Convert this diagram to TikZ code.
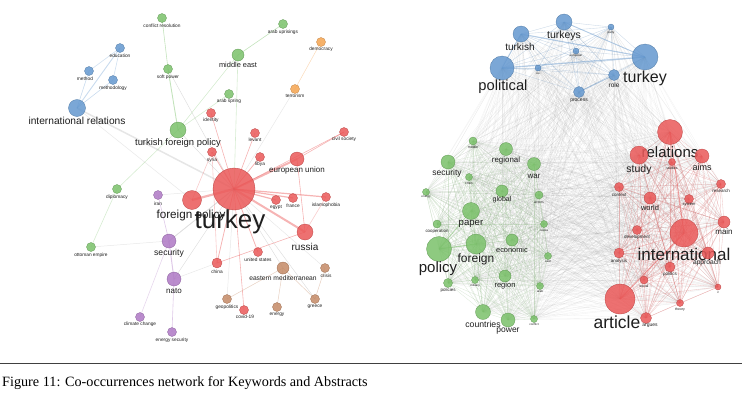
\documentclass[tikz,border=0pt]{standalone}
\usepackage{fontspec}
\setmainfont{Liberation Sans}
\newfontfamily\capfont{Liberation Serif}
\usepackage{xcolor}
\usepackage{tikz}
\usetikzlibrary{positioning,calc}

\definecolor{kwred}{RGB}{234,88,88}
\definecolor{kwgreen}{RGB}{122,193,106}
\definecolor{kwblue}{RGB}{100,152,207}
\definecolor{kwpurple}{RGB}{174,120,196}
\definecolor{kworange}{RGB}{245,164,80}
\definecolor{kwbrown}{RGB}{196,138,102}
\definecolor{kwtext}{RGB}{30,30,30}

\pgfdeclarelayer{edges}
\pgfsetlayers{edges,main}

\begin{document}
\begin{tikzpicture}[x=1pt,y=-1pt,
    kwdot/.style={circle, inner sep=0pt, line width=0.3pt, fill opacity=0.85},
    kwlabel/.style={inner sep=0pt, text=kwtext},
    redge/.style={draw=kwred, opacity=0.45, line width=0.6pt},
    gedge/.style={draw=kwgreen, opacity=0.45, line width=0.6pt},
    bedge/.style={draw=kwblue, opacity=0.35, line width=0.6pt},
    pedge/.style={draw=kwpurple, opacity=0.4, line width=0.6pt},
    oedge/.style={draw=kworange, opacity=0.4, line width=0.5pt},
    nedge/.style={draw=kwbrown, opacity=0.4, line width=0.5pt},
    xedge/.style={draw=gray, opacity=0.25, line width=0.5pt},
    meshedge/.style={draw=gray, opacity=0.11, line width=0.3pt}]

  \useasboundingbox (0,0) rectangle (742,394);

  % #1 is name, #2 #3 is centre, #4 is radius, #5 is colour
  % #6 #7 is label centre, #8 is font size, #9 is text
  \newcommand{\kw}[9]{
    \node[kwdot, fill=#5, draw=#5!80!black, minimum size=2*#4] (#1) at (#2,#3) {};
    \node[kwlabel, font=\fontsize{#8}{#8}\selectfont] (#1-lbl) at (#6,#7) {#9};
  }

  % keywords network
  \kw{l-confres}{162}{18}{4.5}{kwgreen}{162}{26}{4.8}{conflict resolution}
  \kw{l-arabup}{283}{24}{4.5}{kwgreen}{283}{32}{4.8}{arab uprisings}
  \kw{l-democ}{321}{42}{4.5}{kworange}{321}{49.5}{4.8}{democracy}
  \kw{l-educ}{120}{48}{4.5}{kwblue}{120}{56}{4.8}{education}
  \kw{l-method}{89}{71}{4.5}{kwblue}{85}{79}{4.8}{method}
  \kw{l-methodol}{113}{80}{4.5}{kwblue}{113}{88.5}{4.8}{methodology}
  \kw{l-mideast}{238}{55}{6}{kwgreen}{238}{65}{7.4}{middle east}
  \kw{l-softpow}{168}{69}{4.5}{kwgreen}{168}{77}{4.8}{soft power}
  \kw{l-terror}{295}{89}{4.5}{kworange}{295}{96}{4.8}{terrorism}
  \kw{l-arabspr}{229}{94}{4.5}{kwgreen}{229}{101.5}{4.8}{arab spring}
  \kw{l-intrel}{77}{108}{8.5}{kwblue}{77}{121}{10.2}{international relations}
  \kw{l-identity}{211}{113}{4.5}{kwred}{211}{120.5}{4.8}{identity}
  \kw{l-tfp}{178}{130}{8}{kwgreen}{178}{143.5}{9.4}{turkish foreign policy}
  \kw{l-levant}{255}{133}{4.5}{kwred}{255}{140}{4.8}{levant}
  \kw{l-civsoc}{344}{132}{4.5}{kwred}{344}{139}{4.8}{civil society}
  \kw{l-syria}{212}{152}{4.5}{kwred}{212}{160}{4.8}{syria}
  \kw{l-libya}{260}{157}{4.5}{kwred}{260}{164}{4.8}{libya}
  \kw{l-eu}{297}{159}{7}{kwred}{297}{170}{8}{european union}
  \kw{l-turkey}{234}{189}{21}{kwred}{230}{222}{26}{turkey}
  \kw{l-fpolicy}{192}{200}{9.5}{kwred}{191}{215}{11.7}{foreign policy}
  \kw{l-iran}{158}{195}{4.5}{kwpurple}{158}{204}{4.8}{iran}
  \kw{l-diplo}{117}{189}{4.5}{kwgreen}{117}{197}{4.8}{diplomacy}
  \kw{l-egypt}{276}{200}{4.5}{kwred}{276}{207.5}{4.8}{egypt}
  \kw{l-france}{293}{198}{4.5}{kwred}{293}{205.5}{4.8}{france}
  \kw{l-islam}{326}{197}{4.5}{kwred}{326}{205}{4.8}{islamophobia}
  \kw{l-russia}{305}{232}{8}{kwred}{305}{246.5}{10}{russia}
  \kw{l-ottoman}{91}{247}{4.5}{kwgreen}{91}{255}{4.8}{ottoman empire}
  \kw{l-security}{169}{241}{7}{kwpurple}{169}{253}{8.6}{security}
  \kw{l-usa}{258}{252}{4.5}{kwred}{258}{259.5}{4.8}{united states}
  \kw{l-china}{217}{263}{5}{kwred}{217}{272}{4.8}{china}
  \kw{l-eastmed}{283}{268}{6}{kwbrown}{283}{278.5}{6.7}{eastern mediterranean}
  \kw{l-crisis}{325}{268}{4.5}{kwbrown}{326}{276}{4.8}{crisis}
  \kw{l-nato}{174}{279}{7}{kwpurple}{174}{290.5}{8}{nato}
  \kw{l-geopol}{227}{299}{4.5}{kwbrown}{227}{307}{4.8}{geopolitics}
  \kw{l-covid}{244}{310}{4.5}{kwred}{245}{317}{4.8}{covid-19}
  \kw{l-energy}{277}{307}{4.5}{kwbrown}{277}{315}{4.8}{energy}
  \kw{l-greece}{315}{299}{4.5}{kwbrown}{315}{307}{4.8}{greece}
  \kw{l-climate}{140}{317}{4.5}{kwpurple}{140}{324.5}{4.8}{climate change}
  \kw{l-ensec}{172}{332}{4.5}{kwpurple}{172}{340}{4.8}{energy security}

  % abstracts network
  \kw{r-turkeys}{564}{22}{8}{kwblue}{564}{35.5}{10.5}{turkeys}
  \kw{r-turkish}{521}{34}{8}{kwblue}{520}{47}{10}{turkish}
  \kw{r-party}{611}{27}{3}{kwblue}{611}{32.5}{3}{party}
  \kw{r-european}{576}{51}{3}{kwblue}{576}{56}{3}{european}
  \kw{r-turkey}{645}{57}{13}{kwblue}{645}{78}{16}{turkey}
  \kw{r-political}{502}{68}{12}{kwblue}{503}{87}{14.7}{political}
  \kw{r-eu}{538}{68}{3}{kwblue}{538}{74}{3}{eu}
  \kw{r-role}{614}{75}{5.5}{kwblue}{614}{85}{6.5}{role}
  \kw{r-process}{579}{92}{5.5}{kwblue}{579}{101}{5}{process}

  \kw{r-middle}{473}{141}{4}{kwgreen}{473}{147}{3.5}{middle}
  \kw{r-regional}{506}{149}{6.5}{kwgreen}{506}{160}{7.9}{regional}
  \kw{r-security}{448}{162}{7}{kwgreen}{447}{173}{8.5}{security}
  \kw{r-war}{534}{164}{6.5}{kwgreen}{534}{176}{8}{war}
  \kw{r-crisis}{469}{177}{3.5}{kwgreen}{469}{183}{3.5}{crisis}
  \kw{r-energy}{426}{192}{3.5}{kwgreen}{426}{197}{3}{energy}
  \kw{r-global}{502}{191}{6}{kwgreen}{502}{200}{7}{global}
  \kw{r-actors}{539}{195}{4}{kwgreen}{539}{202}{3.5}{actors}
  \kw{r-paper}{471}{211}{8.5}{kwgreen}{471}{224}{9.6}{paper}
  \kw{r-coop}{437}{224}{4}{kwgreen}{437}{231}{4.4}{cooperation}
  \kw{r-russia}{544}{224}{3.5}{kwgreen}{544}{230}{3}{russia}
  \kw{r-policy}{439}{249}{12.5}{kwgreen}{438}{269}{15}{policy}
  \kw{r-foreign}{476}{244}{10}{kwgreen}{476}{259.5}{12}{foreign}
  \kw{r-economic}{512}{240}{6}{kwgreen}{512}{250}{7.4}{economic}
  \kw{r-east}{548}{256}{3.5}{kwgreen}{548}{262}{3}{east}
  \kw{r-policies}{448}{283}{4.5}{kwgreen}{448}{290}{4.5}{policies}
  \kw{r-military}{475}{280}{3.5}{kwgreen}{475}{286}{3}{military}
  \kw{r-region}{505}{276}{6}{kwgreen}{505}{286}{7.5}{region}
  \kw{r-arab}{540}{286}{3.5}{kwgreen}{540}{291}{3}{arab}
  \kw{r-countries}{483}{312}{7.5}{kwgreen}{483}{324}{8.7}{countries}
  \kw{r-power}{508}{320}{7}{kwgreen}{508}{331}{8.5}{power}
  \kw{r-conflict}{534}{319}{3.5}{kwgreen}{534}{324}{3}{conflict}

  \kw{r-relations}{670}{132}{12.5}{kwred}{670}{152}{15}{relations}
  \kw{r-study}{639}{155}{9}{kwred}{639}{170}{10.5}{study}
  \kw{r-studies}{672}{162}{3.5}{kwred}{672}{168}{3.5}{studies}
  \kw{r-aims}{702}{156}{7}{kwred}{702}{167}{9}{aims}
  \kw{r-context}{619}{187}{4.5}{kwred}{619}{195}{4.5}{context}
  \kw{r-world}{650}{198}{6}{kwred}{650}{207.5}{7.5}{world}
  \kw{r-system}{689}{199}{4.5}{kwred}{689}{205}{4}{system}
  \kw{r-research}{721}{184}{4.5}{kwred}{721}{191}{4.5}{research}
  \kw{r-main}{724}{222}{6}{kwred}{724}{231.5}{8}{main}
  \kw{r-development}{637}{230}{4.5}{kwred}{637}{237}{4.5}{development}
  \kw{r-international}{684}{233}{14}{kwred}{684}{254}{17}{international}
  \kw{r-approach}{708}{253}{6}{kwred}{707}{263}{6.7}{approach}
  \kw{r-analysis}{619}{253}{5}{kwred}{619}{261}{4.5}{analysis}
  \kw{r-politics}{670}{267}{5}{kwred}{670}{274}{4.5}{politics}
  \kw{r-social}{644}{280}{4}{kwred}{644}{286}{3.5}{social}
  \kw{r-ir}{718}{287}{3}{kwred}{718}{292}{3}{ir}
  \kw{r-article}{620}{299}{15}{kwred}{617}{322}{17.5}{article}
  \kw{r-theory}{680}{303}{3.5}{kwred}{680}{309.5}{3.5}{theory}
  \kw{r-argues}{646}{318}{5.5}{kwred}{650}{326}{5}{argues}

  \def\rblue{r-turkeys,r-turkish,r-party,r-european,r-turkey,r-political,r-eu,r-role,r-process}
  \def\rgreen{r-middle,r-regional,r-security,r-war,r-crisis,r-energy,r-global,r-actors,r-paper,r-coop,r-russia,r-policy,r-foreign,r-economic,r-east,r-policies,r-military,r-region,r-arab,r-countries,r-power,r-conflict}
  \def\rred{r-relations,r-study,r-studies,r-aims,r-context,r-world,r-system,r-research,r-main,r-development,r-international,r-approach,r-analysis,r-politics,r-social,r-ir,r-article,r-theory,r-argues}
  \edef\rall{\rblue,\rgreen,\rred}

  \begin{pgfonlayer}{edges}
    % gray mesh between all abstract terms
    \foreach \a [count=\i] in \rall {
      \foreach \b [count=\j] in \rall {
        \ifnum\j>\i \draw[meshedge] (\a.center) -- (\b.center); \fi
      }
    }
    % links inside the clusters
    \foreach \a [count=\i] in \rgreen {
      \foreach \b [count=\j] in \rgreen {
        \ifnum\j>\i \draw[gedge, opacity=0.18, line width=0.3pt] (\a.center) -- (\b.center); \fi
      }
    }
    \foreach \a [count=\i] in \rred {
      \foreach \b [count=\j] in \rred {
        \ifnum\j>\i \draw[redge, opacity=0.25, line width=0.35pt] (\a.center) -- (\b.center); \fi
      }
    }
    \foreach \a [count=\i] in \rblue {
      \foreach \b [count=\j] in \rblue {
        \ifnum\j>\i \draw[bedge, opacity=0.25, line width=0.4pt] (\a.center) -- (\b.center); \fi
      }
    }
    \draw[bedge, line width=1.4pt] (r-political.center) -- (r-turkey.center);
    \draw[bedge, line width=1.2pt] (r-turkish.center) -- (r-turkey.center);
    \draw[bedge, line width=1pt] (r-turkeys.center) -- (r-turkey.center);
    \draw[bedge, line width=1pt] (r-political.center) -- (r-turkish.center);
    \draw[bedge, line width=0.9pt] (r-process.center) -- (r-role.center);
    \draw[redge, line width=1pt] (r-article.center) -- (r-international.center);
    \draw[redge, line width=1pt] (r-relations.center) -- (r-international.center);
    \draw[gedge, line width=1pt] (r-policy.center) -- (r-foreign.center);
    \draw[gedge, line width=0.8pt] (r-policy.center) -- (r-paper.center);

    % keywords network links
    \draw[gedge] (l-confres.center) -- (l-softpow.center);
    \draw[gedge, line width=0.9pt] (l-softpow.center) -- (l-tfp.center);
    \draw[gedge] (l-arabup.center) -- (l-mideast.center);
    \draw[gedge, opacity=0.3] (l-mideast.center) -- (l-tfp.center);
    \draw[gedge, opacity=0.3] (l-arabspr.center) -- (l-tfp.center);
    \draw[gedge, opacity=0.3] (l-mideast.center) -- (l-turkey.center);
    \draw[gedge, opacity=0.3] (l-tfp.center) -- (l-diplo.center);
    \draw[gedge, opacity=0.3] (l-diplo.center) -- (l-ottoman.center);
    \draw[oedge] (l-democ.center) -- (l-terror.center);
    \draw[bedge, line width=0.9pt] (l-educ.center) -- (l-intrel.center);
    \draw[bedge] (l-method.center) -- (l-intrel.center);
    \draw[bedge] (l-methodol.center) -- (l-intrel.center);
    \draw[bedge, opacity=0.3] (l-educ.center) -- (l-method.center);
    \draw[bedge, opacity=0.3] (l-educ.center) -- (l-methodol.center);
    \draw[xedge, line width=1.5pt, opacity=0.2] (l-intrel.center) -- (l-turkey.center);
    \draw[xedge] (l-softpow.center) -- (l-turkey.center);
    \draw[xedge, opacity=0.18] (l-terror.center) -- (l-turkey.center);
    \draw[xedge] (l-tfp.center) -- (l-turkey.center);
    \draw[xedge, opacity=0.18] (l-ottoman.center) -- (l-security.center);
    \draw[xedge, opacity=0.18] (l-intrel.center) -- (l-fpolicy.center);
    \foreach \t/\w in {l-identity/0.6, l-levant/0.6, l-syria/0.8, l-libya/0.8, l-eu/2, l-civsoc/0.6,
                      l-egypt/1.2, l-france/1.2, l-islam/1.2, l-russia/2, l-usa/0.8, l-china/0.8,
                      l-covid/0.6, l-fpolicy/2.2}
      \draw[redge, line width=\w pt] (l-turkey.center) -- (\t.center);
    \draw[redge] (l-eu.center) -- (l-civsoc.center);
    \draw[redge] (l-eu.center) -- (l-russia.center);
    \draw[redge] (l-china.center) -- (l-russia.center);
    \draw[redge, opacity=0.3] (l-syria.center) -- (l-china.center);
    \draw[redge, opacity=0.3] (l-syria.center) -- (l-fpolicy.center);
    \draw[redge, opacity=0.3] (l-islam.center) -- (l-russia.center);
    \draw[pedge] (l-iran.center) -- (l-security.center);
    \draw[pedge, line width=1pt] (l-security.center) -- (l-nato.center);
    \draw[pedge] (l-nato.center) -- (l-ensec.center);
    \draw[pedge, opacity=0.3] (l-climate.center) -- (l-security.center);
    \draw[xedge, line width=0.9pt] (l-security.center) -- (l-turkey.center);
    \draw[xedge] (l-nato.center) -- (l-turkey.center);
    \draw[xedge, opacity=0.18] (l-iran.center) -- (l-turkey.center);
    \draw[xedge, opacity=0.18] (l-nato.center) -- (l-china.center);
    \draw[nedge] (l-eastmed.center) -- (l-geopol.center);
    \draw[nedge] (l-eastmed.center) -- (l-energy.center);
    \draw[nedge] (l-eastmed.center) -- (l-greece.center);
    \draw[nedge] (l-greece.center) -- (l-crisis.center);
    \draw[xedge] (l-eastmed.center) -- (l-turkey.center);
    \draw[xedge] (l-greece.center) -- (l-turkey.center);
    \draw[xedge, opacity=0.18] (l-crisis.center) -- (l-turkey.center);
    \draw[xedge, opacity=0.18] (l-geopol.center) -- (l-turkey.center);
  \end{pgfonlayer}

  % caption
  \draw[line width=0.8pt, black!75] (0,363) -- (742,363);
  \node[anchor=base west, inner sep=0pt, font=\capfont\fontsize{14.2}{16}\selectfont] (caption) at (2,386)
    {Figure 11: Co-occurrences network for Keywords and Abstracts};

\end{tikzpicture}
\end{document}
